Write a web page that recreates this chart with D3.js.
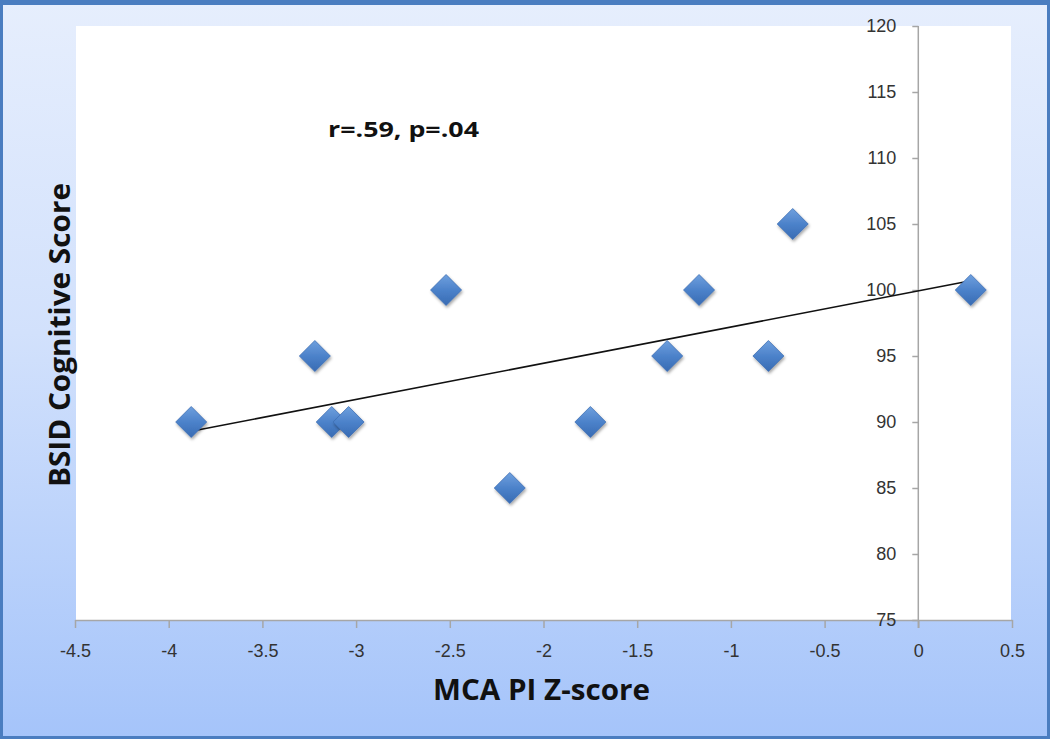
<!DOCTYPE html>
<html>
<head>
<meta charset="utf-8">
<script src="https://cdn.jsdelivr.net/npm/d3@7"></script>
<style>
  html, body { margin: 0; padding: 0; background: #fff; }
  svg { display: block; }
</style>
</head>
<body>
<svg id="chart" width="1050" height="739"></svg>
<script>
// ---- Data ----
const xValues = [-3.88, -3.22, -3.13, -3.04, -2.52, -2.18, -1.75, -1.34, -1.17, -0.80, -0.67, 0.28];
const yValues = [90, 95, 90, 90, 100, 85, 90, 95, 100, 95, 105, 100];
const xTicks = [-4.5, -4, -3.5, -3, -2.5, -2, -1.5, -1, -0.5, 0, 0.5];
const yTicks = [75, 80, 85, 90, 95, 100, 105, 110, 115, 120];
const xTitle = "MCA PI Z-score";
const yTitle = "BSID Cognitive Score";
const annotation = "r=.59, p=.04";

const W = 1050, H = 739;
const svg = d3.select("#chart");
const defs = svg.append("defs");

const bg = defs.append("linearGradient").attr("id", "bg").attr("x1", 0).attr("y1", 0).attr("x2", 0).attr("y2", 1);
bg.append("stop").attr("offset", "0%").attr("stop-color", "#e6eefd");
bg.append("stop").attr("offset", "45%").attr("stop-color", "#d2e1fc");
bg.append("stop").attr("offset", "100%").attr("stop-color", "#a5c4fa");

const mg = defs.append("linearGradient").attr("id", "mk").attr("x1", 0).attr("y1", 0).attr("x2", 0).attr("y2", 1);
mg.append("stop").attr("offset", "0%").attr("stop-color", "#6fa0de");
mg.append("stop").attr("offset", "50%").attr("stop-color", "#4c82ca");
mg.append("stop").attr("offset", "100%").attr("stop-color", "#386bb3");

const sh = defs.append("filter").attr("id", "shadow").attr("x", "-50%").attr("y", "-50%").attr("width", "200%").attr("height", "200%");
sh.append("feDropShadow").attr("dx", 1).attr("dy", 2).attr("stdDeviation", 1.5).attr("flood-color", "#000").attr("flood-opacity", 0.35);

// background + border
svg.append("rect").attr("x", 1.5).attr("y", 1.5).attr("width", W - 3).attr("height", H - 3)
  .attr("fill", "url(#bg)").attr("stroke", "#4a7dc0").attr("stroke-width", 3);
svg.append("line").attr("x1", 0).attr("x2", W).attr("y1", 2.5).attr("y2", 2.5)
  .attr("stroke", "#4a7dc0").attr("stroke-width", 5);

// plot area
const plot = { left: 75, right: 1012, top: 26, bottom: 620 };
svg.append("rect").attr("x", plot.left + 1).attr("y", plot.top)
  .attr("width", plot.right - plot.left - 2).attr("height", plot.bottom - plot.top)
  .attr("fill", "#ffffff");

const x = d3.scaleLinear().domain([-4.5, 0.5]).range([plot.left, plot.right]);
const y = d3.scaleLinear().domain([75, 120]).range([plot.bottom, plot.top]);

const fmt = d => String(d);

// x axis
const gx = svg.append("g").attr("transform", `translate(0,${plot.bottom})`)
  .call(d3.axisBottom(x).tickValues(xTicks).tickFormat(fmt).tickSizeInner(8).tickSizeOuter(0).tickPadding(16));
// y axis at x=0
const gy = svg.append("g").attr("transform", `translate(${x(0)},0)`)
  .call(d3.axisLeft(y).tickValues(yTicks).tickFormat(fmt).tickSizeInner(6).tickSizeOuter(0).tickPadding(16));

[gx, gy].forEach(g => {
  g.select(".domain").attr("stroke", "#a6a6a6").attr("stroke-width", 1.5);
  g.selectAll(".tick line").attr("stroke", "#a6a6a6").attr("stroke-width", 1.5);
  g.selectAll(".tick text").attr("fill", "#333333")
    .style("font-family", "'Liberation Sans', Arial, sans-serif").style("font-size", "18px");
});
gy.select(".domain").attr("d", `M0,${plot.top}V${plot.bottom + 8}`);

// trend line (least squares from data)
const n = xValues.length;
const mx = d3.mean(xValues), my = d3.mean(yValues);
let sxy = 0, sxx = 0;
for (let i = 0; i < n; i++) { sxy += (xValues[i] - mx) * (yValues[i] - my); sxx += (xValues[i] - mx) ** 2; }
const slope = sxy / sxx, icpt = my - slope * mx;
const xMin = d3.min(xValues), xMax = d3.max(xValues);
svg.append("line")
  .attr("x1", x(xMin)).attr("y1", y(icpt + slope * xMin))
  .attr("x2", x(xMax)).attr("y2", y(icpt + slope * xMax))
  .attr("stroke", "#111").attr("stroke-width", 1.6);

// markers
const pts = xValues.map((v, i) => ({ x: v, y: yValues[i] }));
const r = 15.5;
svg.append("g").selectAll("path").data(pts).join("path")
  .attr("d", d => {
    const cx = x(d.x), cy = y(d.y);
    return `M${cx},${cy - r}L${cx + r},${cy}L${cx},${cy + r}L${cx - r},${cy}Z`;
  })
  .attr("fill", "url(#mk)").attr("stroke", "#3d6fb4").attr("stroke-width", 0.8)
  .attr("filter", "url(#shadow)");

// annotation
svg.append("text").attr("x", 328).attr("y", 137).text(annotation)
  .attr("fill", "#111").style("font-family", "'Open Sans', 'DejaVu Sans', sans-serif")
  .style("font-weight", "bold").style("font-size", "21px")
  .attr("textLength", 151).attr("lengthAdjust", "spacingAndGlyphs");

// axis titles
svg.append("text").attr("x", 433).attr("y", 700).text(xTitle)
  .attr("fill", "#111").style("font-family", "'Open Sans', 'DejaVu Sans', sans-serif")
  .style("font-weight", "bold").style("font-size", "28px")
  .attr("textLength", 217).attr("lengthAdjust", "spacingAndGlyphs");

svg.append("text").attr("transform", `translate(70,487) rotate(-90)`).text(yTitle)
  .attr("fill", "#111").style("font-family", "'Open Sans', 'DejaVu Sans', sans-serif")
  .style("font-weight", "bold").style("font-size", "28px")
  .attr("textLength", 304).attr("lengthAdjust", "spacingAndGlyphs");
</script>
</body>
</html>
